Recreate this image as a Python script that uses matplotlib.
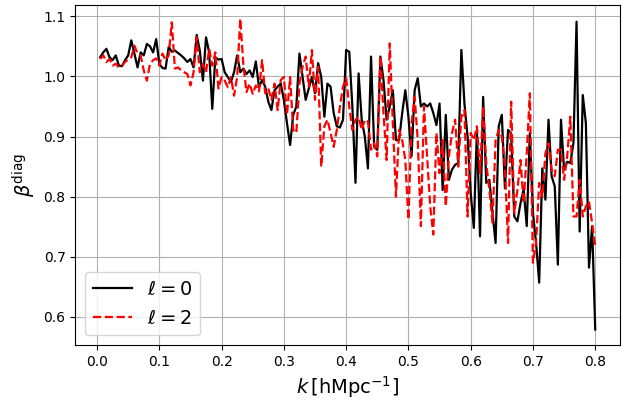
import numpy as np
import matplotlib
matplotlib.use("Agg")
import matplotlib.pyplot as plt

# --- data (k = 0.005 ... 0.800, step 0.005) ---
k = np.round(np.arange(1, 161) * 0.005, 3)

beta_l0 = [
    1.032, 1.040, 1.046, 1.032, 1.027, 1.035, 1.018, 1.017, 1.027, 1.035,
    1.060, 1.038, 1.015, 1.040, 1.035, 1.054, 1.050, 1.040, 1.062, 1.021,
    1.014, 1.013, 1.049, 1.041, 1.043, 1.039, 1.035, 1.030, 1.024, 1.029,
    1.015, 1.069, 1.043, 0.993, 1.065, 1.040, 0.946, 1.032, 1.028, 1.029,
    1.007, 0.999, 0.991, 1.007, 1.035, 1.007, 1.013, 1.004, 1.010, 0.999,
    1.025, 0.982, 0.994, 0.983, 0.958, 0.944, 0.977, 0.983, 0.988, 0.961,
    0.922, 0.886, 0.936, 0.950, 1.038, 0.999, 0.961, 0.980, 0.999, 0.972,
    1.022, 0.999, 0.933, 0.988, 0.983, 0.939, 0.917, 0.915, 0.928, 1.044,
    1.041, 0.950, 0.823, 1.005, 0.928, 0.900, 0.847, 1.033, 0.883, 0.878,
    1.033, 0.994, 0.928, 0.950, 0.977, 0.894, 0.894, 0.939, 0.977, 0.933,
    0.867, 0.977, 0.997, 0.950, 0.955, 0.950, 0.955, 0.939, 0.919, 0.955,
    0.811, 0.936, 0.828, 0.845, 0.853, 0.856, 1.044, 0.955, 0.900, 0.806,
    0.748, 0.911, 0.734, 0.966, 0.823, 0.828, 0.773, 0.723, 0.917, 0.936,
    0.814, 0.911, 0.905, 0.767, 0.759, 0.789, 0.812, 0.751, 0.906, 0.773,
    0.723, 0.657, 0.847, 0.795, 0.928, 0.834, 0.817, 0.687, 0.928, 0.845,
    0.858, 0.856, 0.889, 1.091, 0.742, 0.969, 0.922, 0.682, 0.751, 0.579,
]

beta_l2 = [
    1.029, 1.035, 1.024, 1.029, 1.018, 1.021, 1.015, 1.018, 1.024, 1.028,
    1.032, 1.051, 1.038, 1.035, 1.010, 0.993, 1.021, 1.027, 1.030, 1.018,
    1.038, 1.027, 1.035, 1.090, 1.013, 1.015, 1.010, 1.007, 1.004, 0.985,
    1.007, 1.065, 1.007, 1.021, 1.007, 1.046, 1.018, 1.040, 0.980, 0.999,
    0.993, 0.982, 0.999, 0.968, 0.999, 1.096, 1.018, 0.974, 0.988, 0.971,
    0.985, 0.975, 1.027, 0.972, 0.980, 0.961, 0.988, 0.944, 0.994, 0.999,
    0.936, 0.999, 0.911, 0.906, 0.988, 1.016, 1.033, 0.983, 1.044, 0.961,
    1.016, 0.850, 0.917, 0.928, 0.906, 0.883, 0.911, 0.950, 0.983, 0.997,
    0.950, 0.911, 0.928, 0.933, 0.911, 0.928, 0.925, 0.878, 0.889, 0.867,
    1.033, 0.939, 0.861, 1.055, 0.922, 0.800, 0.911, 0.894, 0.861, 0.762,
    0.922, 0.966, 0.894, 0.751, 0.950, 0.867, 0.784, 0.737, 0.906, 0.839,
    0.894, 0.784, 0.867, 0.906, 0.928, 0.850, 0.933, 0.944, 0.767, 0.906,
    0.894, 0.917, 0.839, 0.950, 0.856, 0.811, 0.757, 0.894, 0.911, 0.900,
    0.850, 0.723, 0.958, 0.773, 0.811, 0.861, 0.789, 0.872, 0.972, 0.690,
    0.723, 0.823, 0.800, 0.872, 0.889, 0.845, 0.834, 0.878, 0.878, 0.828,
    0.867, 0.933, 0.767, 0.767, 0.828, 0.767, 0.784, 0.792, 0.756, 0.718,
]

labels = [r"$\ell=0$", r"$\ell=2$"]

# --- plot ---
fig = plt.figure(figsize=(6.22, 4.07), dpi=100)
ax = fig.add_axes([0.121, 0.152, 0.876, 0.836])

ax.plot(k, beta_l0, color="k", lw=1.6, label=labels[0])
ax.plot(k, beta_l2, color="r", lw=1.6, ls="--", label=labels[1])

ax.set_xlim(-0.035, 0.84)
ax.set_ylim(0.553, 1.119)
ax.set_xticks(np.arange(0, 0.81, 0.1))
ax.set_yticks([0.6, 0.7, 0.8, 0.9, 1.0, 1.1])
ax.tick_params(labelsize=10)
ax.grid(True)

ax.set_xlabel(r"$k\,[\mathrm{hMpc}^{-1}]$", fontsize=14)
ax.set_ylabel(r"$\beta^{\mathrm{diag}}$", fontsize=14)
ax.legend(loc="lower left", fontsize=14)

fig.savefig("out.png", dpi=100)
